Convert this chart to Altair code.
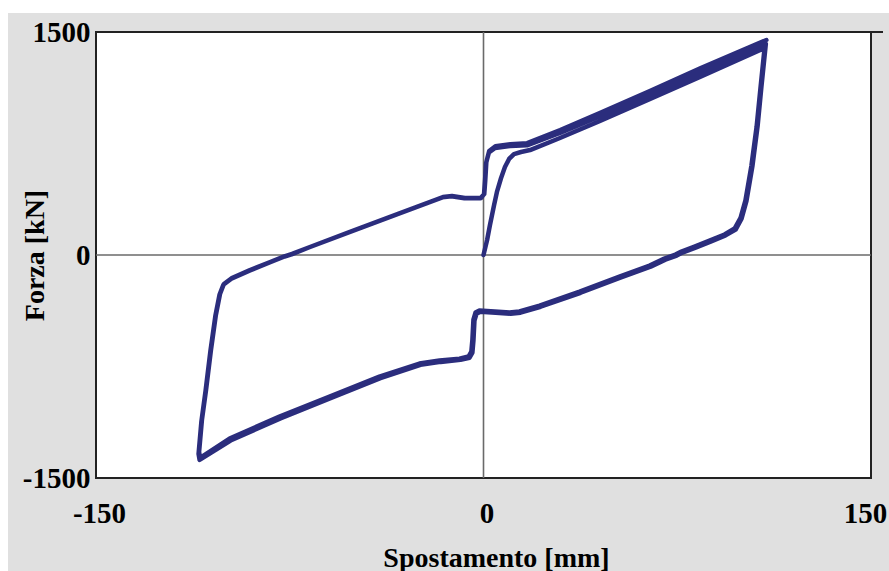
import altair as alt
import pandas as pd

# ---- data (Spostamento [mm], Forza [kN]) ----
virgin_x = [0.0, 1.4, 2.5, 4.1, 5.2, 6.8, 8.3, 9.9, 11.8, 14.5, 18.0, 29.6, 45.1, 64.5, 83.8, 108.8]
virgin_y = [0, 101, 202, 336, 424, 518, 592, 646, 679, 693, 706, 787, 901, 1049, 1197, 1392]

down1_x = [107.2, 105.7, 103.7, 101.4, 99.5, 97.2, 93.3, 87.5, 81.7, 76.6, 74.3, 70.0, 64.3, 52.6,
           37.2, 21.7, 13.9, 10.1, 4.3, -1.6, -3.1, -3.9, -4.3, -4.7, -5.8, -9.3, -17.0, -24.8,
           -40.3, -59.6, -79.0, -98.3, -109.7]
down1_y = [1120, 860, 600, 368, 250, 178, 138, 97, 57, 23, 3, -24, -71, -145, -246, -340, -380,
           -387, -380, -374, -387, -434, -569, -649, -683, -697, -710, -730, -818, -952, -1087,
           -1235, -1365]

up1_x = [-110.1, -109.0, -107.4, -105.5, -103.6, -102.0, -100.5, -97.4, -90.4, -82.6, -76.8, -74.1,
         -67.2, -51.7, -32.3, -15.7, -12.2, -7.2, -1.0, 0.2, 0.6, 1.0, 2.1, 4.5, 10.3, 16.8, 29.6,
         45.1, 64.5, 83.8, 109.3]
up1_y = [-1325, -1110, -908, -639, -404, -262, -195, -155, -101, -47, -7, 7, 54, 155, 282, 390, 397,
         383, 383, 410, 504, 619, 690, 720, 733, 738, 822, 933, 1078, 1225, 1420]

down2_x = [107.6, 106.1, 104.1, 101.8, 99.9, 97.6, 93.7, 87.9, 82.1, 77.0, 74.8, 70.4, 64.7, 53.0,
           37.6, 22.1, 14.3, 10.5, 4.7, -1.2, -2.7, -3.5, -3.9, -4.3, -5.4, -8.9, -16.6, -24.4,
           -39.9, -59.2, -78.6, -97.9, -109.9]
down2_y = [1135, 866, 598, 364, 244, 171, 132, 90, 50, 16, -4, -31, -79, -153, -254, -348, -388,
           -395, -388, -382, -395, -442, -577, -657, -691, -705, -719, -739, -828, -963, -1099,
           -1248, -1378]

up2_x = [-110.3, -109.2, -107.6, -105.7, -103.8, -102.2, -100.7, -97.6, -90.6, -82.8, -77.0, -74.3,
         -67.4, -51.9, -32.5, -15.9, -12.4, -7.4, -1.2, 0.3, 0.7, 1.1, 2.2, 4.6, 10.4, 16.9, 29.7,
         45.2, 64.6, 83.9, 109.5]
up2_y = [-1338, -1120, -915, -645, -410, -268, -200, -160, -105, -50, -10, 4, 52, 153, 280, 388, 395,
         381, 381, 410, 506, 625, 700, 732, 745, 752, 840, 956, 1105, 1255, 1446]

x_ticks = [-150, 0, 150]
y_ticks = [-1500, 0, 1500]

xs = virgin_x + down1_x + up1_x + down2_x + up2_x
ys = virgin_y + down1_y + up1_y + down2_y + up2_y
df = pd.DataFrame({"spost": xs, "forza": ys, "i": list(range(len(xs)))})

W, H = 775, 446
FONT = "Liberation Serif"
NAVY = "#2b2d7d"

xscale = alt.Scale(domain=[-150, 150], nice=False, zero=False)
yscale = alt.Scale(domain=[-1500, 1500], nice=False, zero=False)

xaxis = alt.Axis(values=x_ticks, title="Spostamento [mm]", domain=False, ticks=False, grid=False,
                 labelExpr="datum.value + ''", labelFont=FONT, labelFontWeight="bold",
                 labelFontSize=29, labelColor="black", labelPadding=21, labelFlush=False,
                 labelAlign="center",
                 labelOffset=alt.ExprRef("datum.value > 100 ? -6 : 3"),
                 titleFont=FONT, titleFontWeight="bold", titleFontSize=28, titleColor="black",
                 titleX=400, titleY=88, titleBaseline="alphabetic", titleAlign="center")
yaxis = alt.Axis(values=y_ticks, title="Forza [kN]", domain=False, ticks=False, grid=False,
                 labelExpr="datum.value + ''", labelFont=FONT, labelFontWeight="bold",
                 labelFontSize=29, labelColor="black", labelPadding=6, labelFlush=False,
                 labelBaseline="middle",
                 titleFont=FONT, titleFontWeight="bold", titleFontSize=28, titleColor="black",
                 titleAngle=270, titleX=-53, titleY=223, titleBaseline="alphabetic",
                 titleAlign="center")

one = alt.Data(values=[{"a": 1}])

# white margin strips (page background outside the gray frame)
strip_top = alt.Chart(one).mark_rect(color="white").encode(
    x=alt.value(-96), x2=alt.value(W + 18), y=alt.value(-32), y2=alt.value(-19))
strip_left = alt.Chart(one).mark_rect(color="white").encode(
    x=alt.value(-96), x2=alt.value(-88), y=alt.value(-32), y2=alt.value(H + 93))
top_ext = alt.Chart(one).mark_rule(color="#222222", strokeWidth=2).encode(
    x=alt.value(W), x2=alt.value(W + 12), y=alt.value(0))

zero_df = pd.DataFrame({"z": [0]})
hzero = alt.Chart(zero_df).mark_rule(color="#6a6a6a", strokeWidth=1.6).encode(
    y=alt.Y("z:Q", scale=yscale, axis=yaxis))
vzero = alt.Chart(zero_df).mark_rule(color="#6a6a6a", strokeWidth=1.6).encode(
    x=alt.X("z:Q", scale=xscale, axis=xaxis))

loop = alt.Chart(df).mark_line(color=NAVY, strokeWidth=4.5, strokeJoin="round", strokeCap="round").encode(
    x=alt.X("spost:Q", scale=xscale, axis=xaxis),
    y=alt.Y("forza:Q", scale=yscale, axis=yaxis),
    order=alt.Order("i:Q"),
)

chart = alt.layer(strip_top, strip_left, hzero, vzero, loop, top_ext).properties(
    width=W, height=H,
    background="#e0e0e0",
    padding={"left": 96, "top": 32, "right": 18, "bottom": 93},
    autosize=alt.AutoSizeParams(type="none"),
).configure_view(fill="white", stroke="#222222", strokeWidth=2)

chart.save("out.html", embed_options={"renderer": "svg", "actions": False})
